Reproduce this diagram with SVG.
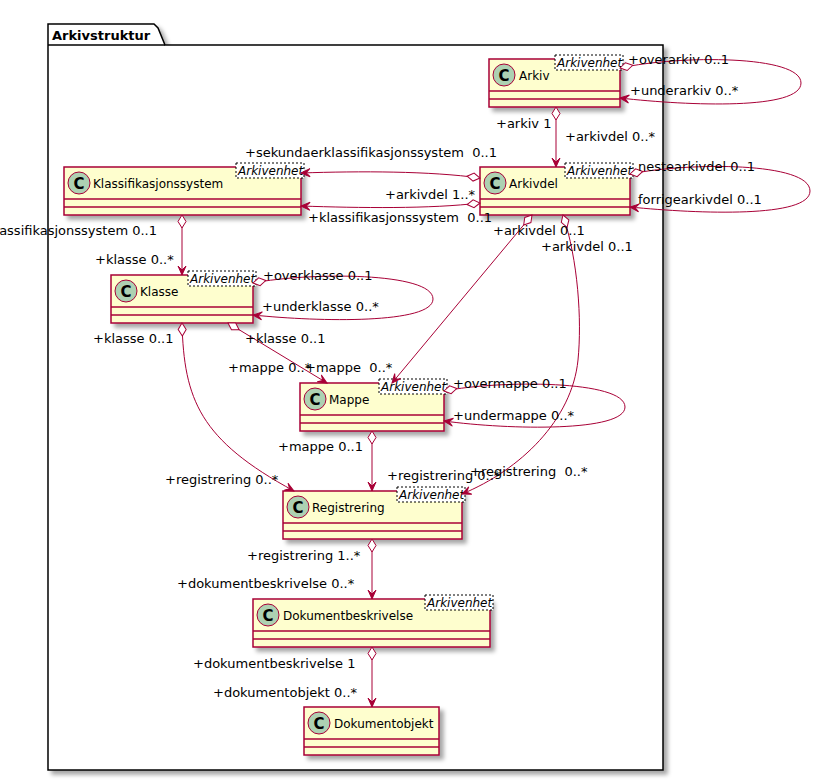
<svg xmlns="http://www.w3.org/2000/svg" width="821" height="782" viewBox="0 0 821 782">
<style>
.cls{fill:#FEFECE;stroke:#A80036;stroke-width:1.5}
.sep{stroke:#A80036;stroke-width:1.5}
.circ{fill:#ADD1B2;stroke:#A80036;stroke-width:1}
.cglyph{font-family:"DejaVu Sans",sans-serif;font-size:15px;font-weight:bold;fill:#000;text-anchor:middle}
.name{font-family:"DejaVu Sans",sans-serif;font-size:12px;fill:#000}
.tpl{fill:#FFFFFF;stroke:#000;stroke-width:1;stroke-dasharray:2,2}
.tpltxt{font-family:"DejaVu Sans",sans-serif;font-size:12px;font-style:italic;fill:#000}
.lnk{fill:none;stroke:#A80036;stroke-width:1;marker-start:url(#dia);marker-end:url(#arr)}
.lbl{font-family:"DejaVu Sans",sans-serif;font-size:13px;fill:#000;white-space:pre}
.pkg{fill:#FFFFFF;stroke:#000;stroke-width:1.5}
.pkgtxt{font-family:"DejaVu Sans",sans-serif;font-size:13px;font-weight:bold;fill:#000}
</style>
<defs>
<filter id="sh" x="-10%" y="-10%" width="130%" height="130%">
<feDropShadow dx="4" dy="4" stdDeviation="2" flood-color="#000" flood-opacity="0.35"/>
</filter>
<marker id="arr" markerUnits="userSpaceOnUse" markerWidth="20" markerHeight="20" refX="0" refY="0" orient="auto" overflow="visible">
<path d="M0,0 L-9,-4 L-5,0 L-9,4 Z" fill="#A80036" stroke="#A80036" stroke-width="1"/>
</marker>
<marker id="dia" markerUnits="userSpaceOnUse" markerWidth="20" markerHeight="20" refX="0" refY="0" orient="auto" overflow="visible">
<path d="M0,0 L6.5,-4 L13,0 L6.5,4 Z" fill="#FFFFFF" stroke="#A80036" stroke-width="1"/>
</marker>
</defs>

<g id="pkg-Arkivstruktur">
<path class="pkg" filter="url(#sh)" d="M48,45 L48,24 L154,24 L158,28 L165,45 L663,45 L663,770 L48,770 Z"/>
<line x1="48" y1="45" x2="165" y2="45" stroke="#000" stroke-width="1.5"/>
<text class="pkgtxt" x="52" y="40">Arkivstruktur</text>
</g>

<g id="Arkiv">
<rect class="cls" filter="url(#sh)" x="489" y="59" width="131" height="48"/>
<line class="sep" x1="489" y1="91" x2="620" y2="91"/>
<line class="sep" x1="489" y1="99" x2="620" y2="99"/>
<circle class="circ" cx="504" cy="75" r="11"/>
<text class="cglyph" x="504" y="80.5">C</text>
<text class="name" x="519" y="80">Arkiv</text>
<rect class="tpl" x="555" y="55" width="68" height="15"/>
<text class="tpltxt" x="557" y="67">Arkivenhet</text>
</g>

<g id="Klassifikasjonssystem">
<rect class="cls" filter="url(#sh)" x="64" y="167" width="237" height="48"/>
<line class="sep" x1="64" y1="199" x2="301" y2="199"/>
<line class="sep" x1="64" y1="207" x2="301" y2="207"/>
<circle class="circ" cx="79" cy="183" r="11"/>
<text class="cglyph" x="79" y="188.5">C</text>
<text class="name" x="93" y="188">Klassifikasjonssystem</text>
<rect class="tpl" x="236" y="163" width="68" height="15"/>
<text class="tpltxt" x="238" y="175">Arkivenhet</text>
</g>

<g id="Arkivdel">
<rect class="cls" filter="url(#sh)" x="480" y="167" width="150" height="48"/>
<line class="sep" x1="480" y1="199" x2="630" y2="199"/>
<line class="sep" x1="480" y1="207" x2="630" y2="207"/>
<circle class="circ" cx="495" cy="183" r="11"/>
<text class="cglyph" x="495" y="188.5">C</text>
<text class="name" x="509" y="188">Arkivdel</text>
<rect class="tpl" x="565" y="163" width="68" height="15"/>
<text class="tpltxt" x="567" y="175">Arkivenhet</text>
</g>

<g id="Klasse">
<rect class="cls" filter="url(#sh)" x="111" y="275" width="142" height="48"/>
<line class="sep" x1="111" y1="307" x2="253" y2="307"/>
<line class="sep" x1="111" y1="315" x2="253" y2="315"/>
<circle class="circ" cx="126" cy="291" r="11"/>
<text class="cglyph" x="126" y="296.5">C</text>
<text class="name" x="140" y="296">Klasse</text>
<rect class="tpl" x="188" y="271" width="68" height="15"/>
<text class="tpltxt" x="190" y="283">Arkivenhet</text>
</g>

<g id="Mappe">
<rect class="cls" filter="url(#sh)" x="300" y="383" width="144" height="48"/>
<line class="sep" x1="300" y1="415" x2="444" y2="415"/>
<line class="sep" x1="300" y1="423" x2="444" y2="423"/>
<circle class="circ" cx="315" cy="399" r="11"/>
<text class="cglyph" x="315" y="404.5">C</text>
<text class="name" x="329" y="404">Mappe</text>
<rect class="tpl" x="379" y="379" width="68" height="15"/>
<text class="tpltxt" x="381" y="391">Arkivenhet</text>
</g>

<g id="Registrering">
<rect class="cls" filter="url(#sh)" x="283" y="491" width="179" height="48"/>
<line class="sep" x1="283" y1="523" x2="462" y2="523"/>
<line class="sep" x1="283" y1="531" x2="462" y2="531"/>
<circle class="circ" cx="298" cy="507" r="11"/>
<text class="cglyph" x="298" y="512.5">C</text>
<text class="name" x="312" y="512">Registrering</text>
<rect class="tpl" x="397" y="487" width="68" height="15"/>
<text class="tpltxt" x="399" y="499">Arkivenhet</text>
</g>

<g id="Dokumentbeskrivelse">
<rect class="cls" filter="url(#sh)" x="253" y="599" width="237" height="48"/>
<line class="sep" x1="253" y1="631" x2="490" y2="631"/>
<line class="sep" x1="253" y1="639" x2="490" y2="639"/>
<circle class="circ" cx="268" cy="615" r="11"/>
<text class="cglyph" x="268" y="620.5">C</text>
<text class="name" x="283" y="620">Dokumentbeskrivelse</text>
<rect class="tpl" x="425" y="595" width="68" height="15"/>
<text class="tpltxt" x="427" y="607">Arkivenhet</text>
</g>

<g id="Dokumentobjekt">
<rect class="cls" filter="url(#sh)" x="304" y="707" width="135" height="48"/>
<line class="sep" x1="304" y1="739" x2="439" y2="739"/>
<line class="sep" x1="304" y1="747" x2="439" y2="747"/>
<circle class="circ" cx="319" cy="723" r="11"/>
<text class="cglyph" x="319" y="728.5">C</text>
<text class="name" x="334" y="728">Dokumentobjekt</text>
</g>

<g id="connectors">
<path class="lnk" d="M620,68 C680,55 801,55 801,83 C801,110 690,106 620,98"/>
<path class="lnk" d="M556,107 L556,167"/>
<path class="lnk" d="M630,174 C690,162 810,162 810,191 C810,218 700,214 630,207"/>
<path class="lnk" d="M480,178 C430,171 360,171 301,173"/>
<path class="lnk" d="M480,203 C430,209 360,208 301,206"/>
<path class="lnk" d="M182,215 L182,275"/>
<path class="lnk" d="M253,283 C310,272 433,272 433,299 C433,324 320,322 253,315"/>
<path class="lnk" d="M228,323 L327,383"/>
<path class="lnk" d="M182,323 C184,400 200,440 294,491"/>
<path class="lnk" d="M532,215 L392,383"/>
<path class="lnk" d="M563,215 C578,260 582,320 578,360 C572,420 520,470 462,494"/>
<path class="lnk" d="M444,391 C500,380 625,380 625,407 C625,432 510,430 444,421"/>
<path class="lnk" d="M372,431 L372,491"/>
<path class="lnk" d="M372,539 L372,599"/>
<path class="lnk" d="M372,647 L372,707"/>

<text class="lbl" x="628" y="64">+overarkiv 0..1</text>
<text class="lbl" x="630" y="95">+underarkiv 0..*</text>
<text class="lbl" x="496" y="128">+arkiv 1</text>
<text class="lbl" x="565" y="141">+arkivdel 0..*</text>
<text class="lbl" x="245" y="157" xml:space="preserve">+sekundaerklassifikasjonssystem  0..1</text>
<text class="lbl" x="385" y="199">+arkivdel 1..*</text>
<text class="lbl" x="308" y="222" xml:space="preserve">+klassifikasjonssystem  0..1</text>
<text class="lbl" x="157" y="235" text-anchor="end">+klassifikasjonssystem 0..1</text>
<text class="lbl" x="638" y="171">nestearkivdel 0..1</text>
<text class="lbl" x="638" y="204">forrigearkivdel 0..1</text>
<text class="lbl" x="493" y="235">+arkivdel 0..1</text>
<text class="lbl" x="541" y="251">+arkivdel 0..1</text>
<text class="lbl" x="95" y="264">+klasse 0..*</text>
<text class="lbl" x="263" y="280">+overklasse 0..1</text>
<text class="lbl" x="262" y="311">+underklasse 0..*</text>
<text class="lbl" x="93" y="343">+klasse 0..1</text>
<text class="lbl" x="245" y="343">+klasse 0..1</text>
<text class="lbl" x="228" y="372">+mappe 0..*</text>
<text class="lbl" x="305" y="372" xml:space="preserve">+mappe  0..*</text>
<text class="lbl" x="453" y="388">+overmappe 0..1</text>
<text class="lbl" x="453" y="420">+undermappe 0..*</text>
<text class="lbl" x="278" y="451">+mappe 0..1</text>
<text class="lbl" x="165" y="484">+registrering 0..*</text>
<text class="lbl" x="387" y="480">+registrering 0..*</text>
<text class="lbl" x="470" y="476" xml:space="preserve">+registrering  0..*</text>
<text class="lbl" x="247" y="560">+registrering 1..*</text>
<text class="lbl" x="177" y="588">+dokumentbeskrivelse 0..*</text>
<text class="lbl" x="193" y="668">+dokumentbeskrivelse 1</text>
<text class="lbl" x="213" y="697">+dokumentobjekt 0..*</text>
</g>
</svg>
